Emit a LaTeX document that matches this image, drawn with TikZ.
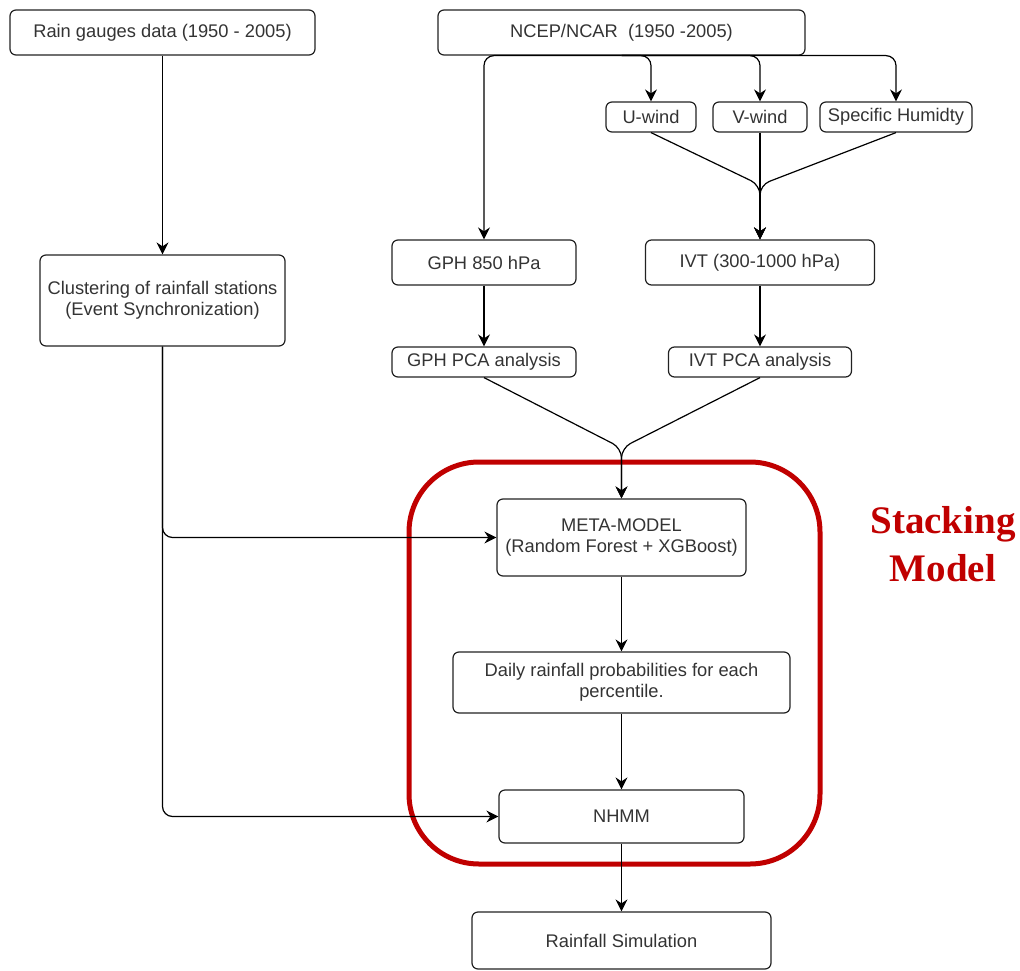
\documentclass[tikz,border=0pt]{standalone}
\usepackage{fontspec}
\setmainfont{Liberation Sans}
\newfontfamily\stackfont{Liberation Serif}
\usetikzlibrary{arrows.meta}
\definecolor{txt}{HTML}{333333}
\definecolor{boxline}{HTML}{222222}
\definecolor{stackred}{HTML}{C00000}
\begin{document}
\begin{tikzpicture}[x=1pt,y=-1pt,
  box/.style={draw=boxline, line width=1.2pt, rounded corners=6pt, text=txt,
    font=\fontsize{18.3}{21.5}\selectfont, align=center, inner sep=0pt},
  arr/.style={-{Stealth[length=12pt,width=12pt,inset=4pt]}, line width=1.2pt, rounded corners=10pt},
  ]
\useasboundingbox (0,0) rectangle (1020,971);

% stacking model frame
\node[draw=stackred, line width=5pt, rounded corners=70pt,
      minimum width=411pt, minimum height=402pt, inner sep=0pt] (stack) at (614.5,663) {};
\node[text=stackred, font=\stackfont\bfseries\fontsize{39}{48}\selectfont, align=center]
      (lbl) at (943,544) {Stacking\\Model};

% nodes
\node[box, minimum width=305pt, minimum height=45pt] (rain) at (162.5,32.5) {Rain gauges data (1950 - 2005)};
\node[box, minimum width=367pt, minimum height=45pt] (ncep) at (621.5,32.5) {NCEP/NCAR~~(1950 -2005)};
\node[box, minimum width=90pt, minimum height=30pt] (uw) at (651,117) {U-wind};
\node[box, minimum width=94pt, minimum height=30pt] (vw) at (760,117) {V-wind};
\node[box, minimum width=152pt, minimum height=30pt] (sh) at (896,117) {Specific Humidty};
\node[box, minimum width=184pt, minimum height=45pt] (gph) at (484,262.5) {GPH 850 hPa};
\node[box, minimum width=229pt, minimum height=45pt] (ivt) at (760,262.5) {IVT (300-1000 hPa)};
\node[box, minimum width=184pt, minimum height=30pt] (gpca) at (484,362) {GPH PCA analysis};
\node[box, minimum width=183pt, minimum height=30pt] (ipca) at (760,362) {IVT PCA analysis};
\node[box, minimum width=245pt, minimum height=91pt] (clus) at (162.5,300.5) {Clustering of rainfall stations\\(Event Synchronization)};
\node[box, minimum width=249pt, minimum height=77pt] (meta) at (621.5,537.5) {META-MODEL\\(Random Forest + XGBoost)};
\node[box, minimum width=337pt, minimum height=61pt] (daily) at (621.5,682.5) {Daily rainfall probabilities for each\\percentile.};
\node[box, minimum width=245pt, minimum height=53pt] (nhmm) at (621.5,816.5) {NHMM};
\node[box, minimum width=299pt, minimum height=57pt] (sim) at (621.5,940.5) {Rainfall Simulation};

% merge points
\coordinate (m1) at (760,185);
\coordinate (m2) at (621.5,448);

% connectors
\draw[arr] (rain.south) -- (clus.north);
\draw[arr] (ncep.south) -- (gph.north |- ncep.south) -- (gph.north);
\draw[arr] (ncep.south) -- (uw.north |- ncep.south) -- (uw.north);
\draw[arr] (ncep.south) -- (vw.north |- ncep.south) -- (vw.north);
\draw[arr] (ncep.south) -- (sh.north |- ncep.south) -- (sh.north);
\draw[arr] (uw.south) -- (m1) -- (ivt.north);
\draw[arr] (sh.south) -- (m1) -- (ivt.north);
\draw[arr] (vw.south) -- (ivt.north);
\draw[arr] (gph.south) -- (gpca.north);
\draw[arr] (ivt.south) -- (ipca.north);
\draw[arr] (gpca.south) -- (m2) -- (meta.north);
\draw[arr] (ipca.south) -- (m2) -- (meta.north);
\draw[arr] (clus.south) -- (clus.south |- meta.west) -- (meta.west);
\draw[arr] (clus.south) -- (clus.south |- nhmm.west) -- (nhmm.west);
\draw[arr] (meta.south) -- (daily.north);
\draw[arr] (daily.south) -- (nhmm.north);
\draw[arr] (nhmm.south) -- (sim.north);
\end{tikzpicture}
\end{document}
